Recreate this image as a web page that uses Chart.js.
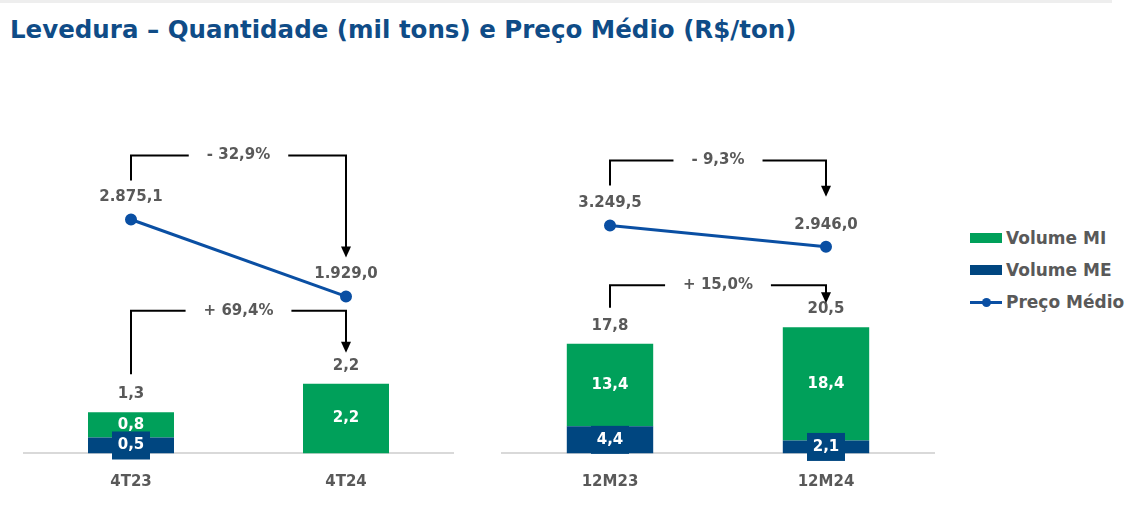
<!DOCTYPE html>
<html lang="pt-BR">
<head>
<meta charset="utf-8">
<title>Levedura</title>
<script src="https://cdn.jsdelivr.net/npm/chart.js@4.4.1/dist/chart.umd.min.js"></script>
<style>
    body { margin: 0; width: 1146px; height: 523px; background: #fff; position: relative; overflow: hidden; font-family: "DejaVu Sans", sans-serif; }
    #faixa { position: absolute; left: 0; top: 0; width: 1112px; height: 3px; background: #eeeeee; }
    h1 { position: absolute; left: 10px; top: 15px; margin: 0; font-size: 24.5px; font-weight: bold; color: #0f4c87; white-space: nowrap; }
    .painel { position: absolute; top: 60px; width: 480px; height: 458px; }
    #legenda { position: absolute; left: 970px; top: 222px; color: #595959; font-weight: bold; font-size: 17px; }
    .item { height: 32px; display: flex; align-items: center; }
    .caixa { width: 32px; height: 10px; margin-right: 4px; }
    .linha { width: 32px; height: 3px; margin-right: 4px; background: #0a4fa3; position: relative; }
    .linha span { position: absolute; left: 12px; top: -3px; width: 9px; height: 9px; border-radius: 50%; background: #0a4fa3; }
</style>
</head>
<body>
<div id="faixa"></div>
<h1>Levedura – Quantidade (mil tons) e Preço Médio (R$/ton)</h1>
<div class="painel" style="left:0px"><canvas id="grafico-tri"></canvas></div>
<div class="painel" style="left:480px"><canvas id="grafico-ano"></canvas></div>
<div id="legenda">
    <div class="item"><div class="caixa" style="background:#00a05a"></div>Volume MI</div>
    <div class="item"><div class="caixa" style="background:#004680"></div>Volume ME</div>
    <div class="item"><div class="linha"><span></span></div>Preço Médio</div>
</div>
<script>
// trimestre
const categoriasTri = ['4T23', '4T24'];
const volumeMITri = [0.8, 2.2];
const volumeMETri = [0.5, null];
const totalTri = [1.3, 2.2];
const precoTri = [2875.1, 1929.0];
const varPrecoTri = '- 32,9%';
const varVolumeTri = '+ 69,4%';

// acumulado 12 meses
const categoriasAno = ['12M23', '12M24'];
const volumeMIAno = [13.4, 18.4];
const volumeMEAno = [4.4, 2.1];
const totalAno = [17.8, 20.5];
const precoAno = [3249.5, 2946.0];
const varPrecoAno = '- 9,3%';
const varVolumeAno = '+ 15,0%';

const COR_MI = '#00a05a';
const COR_ME = '#004680';
const COR_PRECO = '#0a4fa3';
const CINZA = '#595959';
const FONTE = '"DejaVu Sans", sans-serif';

// 2875,1 -> "2.875,1"
function fmt(v) {
    const [int, dec] = v.toFixed(1).split('.');
    return int.replace(/\B(?=(\d{3})+(?!\d))/g, '.') + ',' + dec;
}

function colchete(ctx, x1, x2, yTopo, yEsq, yPonta, texto) {
    const meio = (x1 + x2) / 2;
    const folga = ctx.measureText(texto).width / 2 + 18;
    ctx.beginPath();
    ctx.moveTo(x1, yEsq);
    ctx.lineTo(x1, yTopo);
    ctx.lineTo(meio - folga, yTopo);
    ctx.moveTo(meio + folga, yTopo);
    ctx.lineTo(x2, yTopo);
    ctx.lineTo(x2, yPonta - 9);
    ctx.stroke();
    ctx.beginPath();
    ctx.moveTo(x2 - 5, yPonta - 11);
    ctx.lineTo(x2 + 5, yPonta - 11);
    ctx.lineTo(x2, yPonta);
    ctx.closePath();
    ctx.fill();
    ctx.fillStyle = CINZA;
    ctx.fillText(texto, meio, yTopo);
    ctx.fillStyle = '#000';
}

// rotulos de valor e setas de variacao
const rotulos = {
    id: 'rotulos',
    afterDatasetsDraw(chart, args, opts) {
        const ctx = chart.ctx;
        const ds = chart.data.datasets;
        const me = chart.getDatasetMeta(0).data;
        const mi = chart.getDatasetMeta(1).data;
        const pts = chart.getDatasetMeta(2).data;
        ctx.save();
        ctx.textAlign = 'center';
        ctx.textBaseline = 'middle';
        ctx.font = 'bold 15px ' + FONTE;

        mi.forEach((bar, i) => {
            if (!ds[1].data[i]) return;
            ctx.fillStyle = '#fff';
            ctx.fillText(fmt(ds[1].data[i]), bar.x, (bar.y + bar.base) / 2);
        });
        me.forEach((bar, i) => {
            if (!ds[0].data[i]) return;
            const meio = (bar.y + bar.base) / 2;
            ctx.fillStyle = COR_ME;
            ctx.fillRect(bar.x - 19, meio - 14, 38, 28);
            ctx.fillStyle = '#fff';
            ctx.fillText(fmt(ds[0].data[i]), bar.x, meio);
        });

        ctx.fillStyle = CINZA;
        const topos = mi.map((bar, i) => Math.min(bar.y, me[i].y));
        topos.forEach((y, i) => ctx.fillText(fmt(opts.totais[i]), mi[i].x, y - 18));
        pts.forEach((p, i) => ctx.fillText(fmt(ds[2].data[i]), p.x, p.y - 22));

        const s = opts.setas;
        ctx.strokeStyle = '#000';
        ctx.fillStyle = '#000';
        ctx.lineWidth = 2;
        colchete(ctx, pts[0].x, pts[1].x,
            pts[0].y - s.precoTopo, pts[0].y - s.precoEsq, pts[1].y - s.precoPonta, opts.varPreco);
        colchete(ctx, mi[0].x, mi[1].x,
            topos[1] - s.volTopo, topos[0] - s.volEsq, topos[1] - s.volPonta, opts.varVolume);
        ctx.restore();
    }
};

function criarGrafico(id, categorias, me, mi, preco, totais, varPreco, varVolume, cfg) {
    const ctx = document.getElementById(id).getContext('2d');
    return new Chart(ctx, {
        type: 'bar',
        data: {
            labels: categorias,
            datasets: [{
                label: 'Volume ME',
                data: me,
                backgroundColor: COR_ME,
                categoryPercentage: 0.8,
                barPercentage: 0.5,
                yAxisID: 'y',
                order: 2
            }, {
                label: 'Volume MI',
                data: mi,
                backgroundColor: COR_MI,
                categoryPercentage: 0.8,
                barPercentage: 0.5,
                yAxisID: 'y',
                order: 2
            }, {
                type: 'line',
                label: 'Preço Médio',
                data: preco,
                borderColor: COR_PRECO,
                backgroundColor: COR_PRECO,
                borderWidth: 3,
                pointRadius: 4.5,
                yAxisID: 'y2',
                order: 1
            }]
        },
        options: {
            responsive: true,
            maintainAspectRatio: false,
            animation: false,
            layout: { padding: cfg.padding },
            plugins: {
                legend: { display: false },
                tooltip: { enabled: false },
                rotulos: { totais: totais, varPreco: varPreco, varVolume: varVolume, setas: cfg.setas }
            },
            scales: {
                x: {
                    stacked: true,
                    grid: { display: false },
                    border: { display: true, color: '#d9d9d9', width: 2 },
                    ticks: { color: CINZA, padding: 12, font: { family: FONTE, size: 15, weight: 'bold' } }
                },
                y: { stacked: true, display: false, min: 0, max: cfg.maxVolume },
                y2: { display: false, min: 0, max: cfg.maxPreco }
            }
        },
        plugins: [rotulos]
    });
}

criarGrafico('grafico-tri', categoriasTri, volumeMETri, volumeMITri, precoTri, totalTri, varPrecoTri, varVolumeTri, {
    padding: { left: 23.5, right: 26.5, top: 0, bottom: 14.6 },
    maxVolume: 12.2,
    maxPreco: 4743,
    setas: { precoTopo: 64, precoEsq: 39, precoPonta: 39, volTopo: 73, volEsq: 38, volPonta: 31 }
});

criarGrafico('grafico-ano', categoriasAno, volumeMEAno, volumeMIAno, precoAno, totalAno, varPrecoAno, varVolumeAno, {
    padding: { left: 22, right: 26, top: 0, bottom: 14.6 },
    maxVolume: 62.7,
    maxPreco: 5501,
    setas: { precoTopo: 65, precoEsq: 40, precoPonta: 50, volTopo: 42, volEsq: 36, volPonta: 24 }
});
</script>
</body>
</html>
